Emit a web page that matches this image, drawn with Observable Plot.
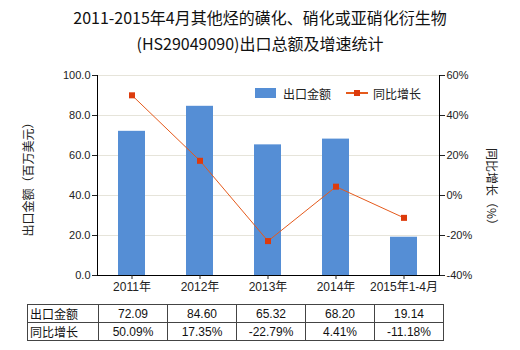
<!DOCTYPE html>
<html><head><meta charset="utf-8">
<script src="https://cdn.jsdelivr.net/npm/d3@7"></script>
<script src="https://cdn.jsdelivr.net/npm/@observablehq/plot@0.6"></script>
<style>
body{margin:0;background:#fff;font-family:"Liberation Sans","Noto Sans CJK SC",sans-serif;}
#wrap{position:relative;width:520px;height:350px;overflow:hidden;}
#title{height:56px;box-sizing:border-box;padding-top:4px;text-align:center;font-size:16px;line-height:26px;color:#111;font-family:"Noto Sans CJK SC",sans-serif;}
#legend{position:absolute;left:255px;top:85px;font-size:12px;color:#222;display:flex;align-items:center;height:16px;}
#legend .sw{width:21px;height:10px;background:#558ed5;margin-right:7px;}
#legend .ln{position:relative;width:22px;height:2px;background:#e55a1c;margin-left:15px;margin-right:5px;}
#legend .ln i{position:absolute;left:8px;top:-2px;width:6px;height:6px;background:#dd3b0c;}
table{position:absolute;left:27px;top:304px;border-collapse:collapse;font-size:12px;color:#111;}
td{border:1px solid #444;height:16px;padding:0 2px;text-align:center;width:64px;}
td.h{text-align:left;width:66px;}
</style></head>
<body>
<div id="wrap">
<div id="title">2011-2015年4月其他烃的磺化、硝化或亚硝化衍生物<br>(HS29049090)出口总额及增速统计</div>
<div id="chart"></div>
<div id="legend"><div class="sw"></div><span>出口金额</span><div class="ln"><i></i></div><span>同比增长</span></div>
<table id="tbl"></table>
</div>
<script>
const categories = ["2011年","2012年","2013年","2014年","2015年1-4月"];
const exportValues = [72.09, 84.60, 65.32, 68.20, 19.14];
const growthValues = [50.09, 17.35, -22.79, 4.41, -11.18];
const leftTicks = [0, 20, 40, 60, 80, 100];
const rightTicks = [-40, -20, 0, 20, 40, 60];
const rowNames = ["出口金额", "同比增长"];

const data = categories.map((c, i) => ({cat: c, value: exportValues[i], growth: growthValues[i]}));
const toLeft = p => p + 40; // map -40..60% onto 0..100

const chart = Plot.plot({
  width: 520, height: 244,
  marginTop: 19, marginBottom: 25, marginLeft: 97, marginRight: 81,
  style: {fontFamily: "Liberation Sans, Noto Sans CJK SC, sans-serif", fontSize: "11px", color: "#222"},
  x: {domain: categories, paddingInner: 0.6, paddingOuter: 0.3, label: null},
  y: {domain: [0, 100], label: null},
  marks: [
    Plot.ruleY(leftTicks.slice(1), {stroke: "#e6e4da", strokeWidth: 1}),
    Plot.barY(data, {x: "cat", y: "value", fill: "#558ed5"}),
    Plot.line(data, {x: "cat", y: d => toLeft(d.growth), stroke: "#e55a1c", strokeWidth: 1}),
    Plot.dot(data, {x: "cat", y: d => toLeft(d.growth), symbol: "square", r: 3.4, fill: "#dd3b0c", stroke: "none"}),
    Plot.ruleY([0], {stroke: "#000"}),
    Plot.frame({anchor: "left", stroke: "#000"}),
    Plot.frame({anchor: "right", stroke: "#000"}),
    Plot.axisY(leftTicks, {anchor: "left", tickSize: 5, tickPadding: 2, tickFormat: d3.format(".1f"), label: null}),
    Plot.axisY(rightTicks.map(toLeft), {anchor: "right", tickSize: 5, tickPadding: 2, tickFormat: v => (v - 40) + "%", label: null}),
    Plot.axisX({tickSize: 4, tickPadding: 3, fontSize: 12, label: null}),
    Plot.text(["出口金额（百万美元）"], {frameAnchor: "left", textAnchor: "middle", dx: -68, dy: 1, rotate: -90, fontSize: 12, fontFamily: "Noto Sans CJK SC"}),
    Plot.text(["同比增长（%）"], {frameAnchor: "right", textAnchor: "middle", dx: 51, dy: 14, rotate: 90, fontSize: 12, fontFamily: "Noto Sans CJK SC"})
  ]
});
document.getElementById("chart").appendChild(chart);

const tbl = document.getElementById("tbl");
const rows = [exportValues.map(v => v.toFixed(2)), growthValues.map(v => v.toFixed(2) + "%")];
rows.forEach((r, i) => {
  const tr = document.createElement("tr");
  const th = document.createElement("td"); th.className = "h"; th.textContent = rowNames[i]; tr.appendChild(th);
  r.forEach(v => { const td = document.createElement("td"); td.textContent = v; tr.appendChild(td); });
  tbl.appendChild(tr);
});
</script>
</body></html>
